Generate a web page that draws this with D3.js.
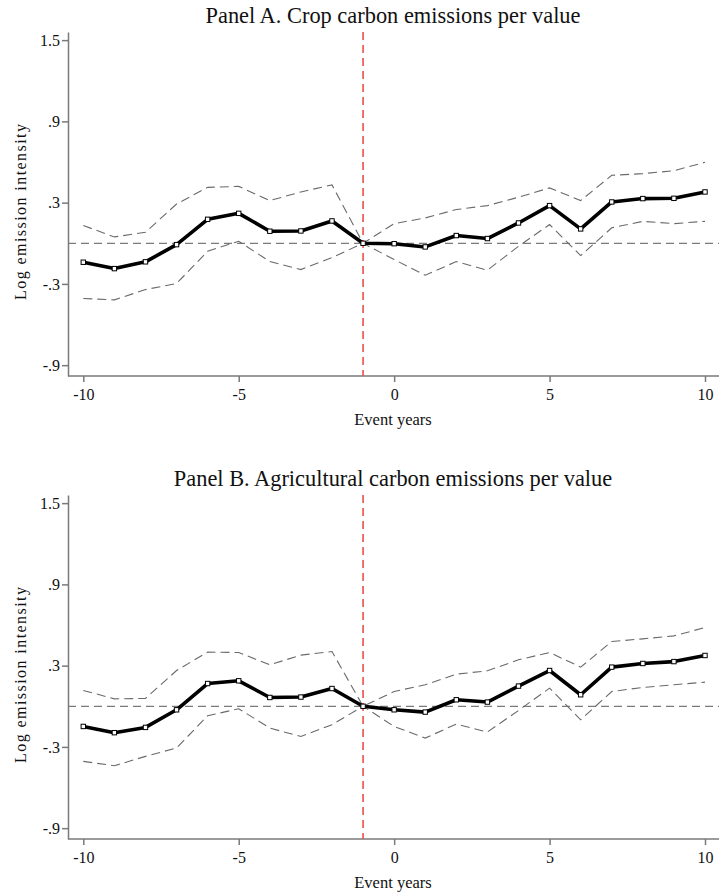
<!DOCTYPE html>
<meta charset="utf-8">
<style>
body { margin: 0; background: white; }
text { font-family: "Liberation Serif", "Times New Roman", serif; fill: #111; }
.axisGrey path, .axisGrey line { stroke: #7a7a7a; stroke-width: 1.5; }
.axisGrey text { font-size: 16px; font-family: "Liberation Serif", serif; fill: #111; }
</style>
<script src="https://cdn.jsdelivr.net/npm/d3@7"></script>
<body>
<script>
const years = [-10,-9,-8,-7,-6,-5,-4,-3,-2,-1,0,1,2,3,4,5,6,7,8,9,10];

// Panel A: crop
const cropCoef  = [-0.14,-0.187,-0.137,-0.01,0.177,0.221,0.089,0.091,0.165,0,-0.003,-0.027,0.057,0.035,0.15,0.278,0.106,0.305,0.33,0.332,0.379];
const cropUpper = [0.131,0.047,0.081,0.29,0.413,0.42,0.315,0.379,0.431,0,0.145,0.187,0.249,0.278,0.34,0.409,0.315,0.502,0.514,0.536,0.598];
const cropLower = [-0.408,-0.418,-0.342,-0.297,-0.059,0.015,-0.135,-0.194,-0.106,0,-0.12,-0.236,-0.135,-0.199,-0.022,0.138,-0.091,0.114,0.162,0.145,0.162];

// Panel B: agriculture
const agriCoef  = [-0.149,-0.195,-0.156,-0.026,0.168,0.188,0.065,0.068,0.131,0,-0.026,-0.043,0.048,0.031,0.149,0.264,0.085,0.289,0.316,0.33,0.375];
const agriUpper = [0.117,0.055,0.058,0.264,0.4,0.397,0.306,0.378,0.404,0,0.109,0.159,0.237,0.262,0.343,0.397,0.289,0.478,0.498,0.52,0.581];
const agriLower = [-0.407,-0.439,-0.37,-0.308,-0.07,-0.018,-0.161,-0.223,-0.136,0,-0.149,-0.235,-0.131,-0.19,-0.031,0.134,-0.1,0.109,0.139,0.159,0.178];

const yTicks = [-0.9,-0.3,0.3,0.9,1.5];
const yTickLabels = ["-.9","-.3",".3",".9","1.5"];
const xTicks = [-10,-5,0,5,10];
const xTickLabels = ["-10","-5","0","5","10"];
const eventLine = -1;

const panels = [
  {title: "Panel A. Crop carbon emissions per value", coef: cropCoef, upper: cropUpper, lower: cropLower, top: 32},
  {title: "Panel B. Agricultural carbon emissions per value", coef: agriCoef, upper: agriUpper, lower: agriLower, top: 495}
];

const W = 719, H = 895;
const left = 68, right = 719, plotH = 344;

const svg = d3.select('body').append('svg')
  .attr('width', W).attr('height', H);

const x = d3.scaleLinear().domain([-10, 10]).range([83.3, 705]);

panels.forEach(p => {
  const bottom = p.top + plotH;
  const y = d3.scaleLinear().domain([-0.98, 1.56]).range([bottom, p.top]);
  const g = svg.append('g');

  // y axis
  g.append('g')
    .attr('class', 'axisGrey')
    .attr('transform', `translate(${left},0)`)
    .call(d3.axisLeft(y).tickValues(yTicks).tickSizeInner(6).tickSizeOuter(0).tickPadding(2)
      .tickFormat((d, i) => yTickLabels[i]));

  // x axis
  const xa = g.append('g')
    .attr('class', 'axisGrey')
    .attr('transform', `translate(0,${bottom})`)
    .call(d3.axisBottom(x).tickValues(xTicks).tickSizeInner(6).tickSizeOuter(0).tickPadding(7)
      .tickFormat((d, i) => xTickLabels[i]));
  xa.select('.domain').attr('d', `M${left},0H${right}`);

  // zero reference line
  g.append('line')
    .attr('x1', left).attr('x2', right)
    .attr('y1', y(0)).attr('y2', y(0))
    .attr('stroke', '#7a7a7a').attr('stroke-width', 1.2)
    .attr('stroke-dasharray', '8,5');

  // event line
  g.append('line')
    .attr('x1', x(eventLine)).attr('x2', x(eventLine))
    .attr('y1', p.top).attr('y2', bottom)
    .attr('stroke', '#e8504a').attr('stroke-width', 1.6)
    .attr('stroke-dasharray', '8,5');

  const line = d3.line().x((d, i) => x(years[i])).y(d => y(d));

  [p.upper, p.lower].forEach(ci => {
    g.append('path')
      .datum(ci)
      .attr('d', line)
      .attr('fill', 'none')
      .attr('stroke', '#6a6a6a').attr('stroke-width', 1.1)
      .attr('stroke-dasharray', '9,5');
  });

  g.selectAll('path.coef')
    .data([p.coef])
    .join('path')
    .attr('class', 'coef')
    .attr('d', line)
    .attr('fill', 'none')
    .attr('stroke', '#000').attr('stroke-width', 3.6)
    .attr('stroke-linejoin', 'round');

  g.selectAll('rect.mk')
    .data(p.coef)
    .join('rect')
    .attr('class', 'mk')
    .attr('x', (d, i) => x(years[i]) - 2.2)
    .attr('y', d => y(d) - 2.2)
    .attr('width', 4.4).attr('height', 4.4)
    .attr('fill', 'white').attr('stroke', '#000').attr('stroke-width', 1);

  // title
  g.append('text')
    .attr('x', 393).attr('y', p.top - 9)
    .attr('text-anchor', 'middle')
    .style('font-size', '22.4px')
    .text(p.title);

  // x label
  g.append('text')
    .attr('x', 393).attr('y', bottom + 49)
    .attr('text-anchor', 'middle')
    .style('font-size', '16.5px')
    .text('Event years');

  // y label
  g.append('text')
    .attr('transform', `translate(26,${p.top + 180}) rotate(-90)`)
    .attr('text-anchor', 'middle')
    .attr('textLength', 176)
    .attr('lengthAdjust', 'spacing')
    .style('font-size', '16px')
    .text('Log emission intensity');
});
</script>
</body>
